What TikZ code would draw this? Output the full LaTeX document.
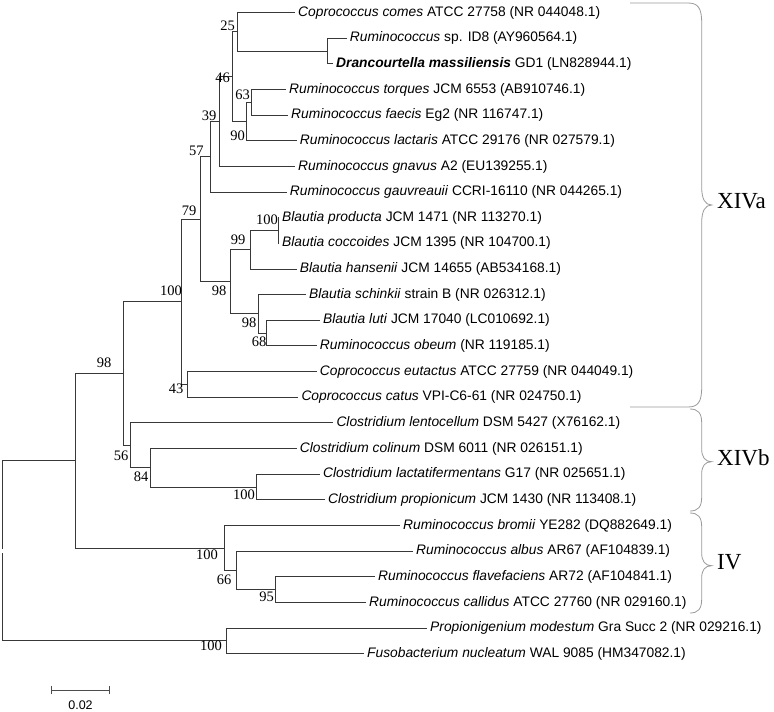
\documentclass[tikz,border=0pt]{standalone}
\usepackage{fontspec}
\setmainfont{Liberation Sans}
\newfontfamily\bsfont{Liberation Serif}
\begin{document}
\begin{tikzpicture}[x=1pt,y=-1pt,
  branch/.style={draw=black!78, line width=1pt},
  leaf/.style={anchor=west, inner xsep=3pt, inner ysep=0pt, text height=0.72em, text depth=0pt, font=\fontsize{13.8}{14}\selectfont},
  boot/.style={inner sep=0pt, text height=0.66em, text depth=0pt, font=\bsfont\fontsize{14.5}{15}\selectfont},
  brace/.style={draw=black!40, line width=0.8pt},
  clade/.style={anchor=west, inner sep=0pt, text height=0.66em, text depth=0pt, font=\bsfont\fontsize{23}{25}\selectfont},
  scalebar/.style={draw=black!70, line width=1pt}]
\useasboundingbox (0,0) rectangle (774,712);
% leaf ends
\coordinate (L1) at (295,12.5);
\coordinate (L2) at (346.7,38.15);
\coordinate (L3) at (333,63.8);
\coordinate (L4) at (286,89.45);
\coordinate (L5) at (288,115.1);
\coordinate (L6) at (296.7,140.75);
\coordinate (L7) at (295,166.4);
\coordinate (L8) at (286.7,192.05);
\coordinate (L9) at (279,217.7);
\coordinate (L10) at (279,243.35);
\coordinate (L11) at (296.7,269.0);
\coordinate (L12) at (306,294.65);
\coordinate (L13) at (320,320.3);
\coordinate (L14) at (316.7,345.95);
\coordinate (L15) at (316.7,371.6);
\coordinate (L16) at (298.3,397.25);
\coordinate (L17) at (333.3,422.9);
\coordinate (L18) at (296.7,448.55);
\coordinate (L19) at (320,474.2);
\coordinate (L20) at (325,499.85);
\coordinate (L21) at (400,525.5);
\coordinate (L22) at (413,551.15);
\coordinate (L23) at (375,576.8);
\coordinate (L24) at (366,602.45);
\coordinate (L25) at (427,628.1);
\coordinate (L26) at (364,653.75);
% internal nodes
\coordinate (n25) at (237.3,31.75);
\coordinate (nID8) at (327.7,51.0);
\coordinate (n63) at (251.7,102.3);
\coordinate (n90) at (246.7,121.5);
\coordinate (n46) at (232.3,76.6);
\coordinate (n39) at (219,121.5);
\coordinate (n57) at (210,156.8);
\coordinate (n100b) at (278.3,230.5);
\coordinate (n99) at (250,249.8);
\coordinate (n68) at (266.7,333.1);
\coordinate (n98c) at (258.3,313.9);
\coordinate (n98b) at (230,281.8);
\coordinate (n79) at (200.7,219.3);
\coordinate (n43) at (187.3,384.4);
\coordinate (n100a) at (181.7,301.9);
\coordinate (n100c) at (256.7,487.0);
\coordinate (n84) at (150.7,467.8);
\coordinate (n56) at (130,445.35);
\coordinate (n98a) at (123.3,373.6);
\coordinate (n95) at (275,589.6);
\coordinate (n66) at (236,570.4);
\coordinate (n100d) at (224,548);
\coordinate (n98r) at (75,460.8);
\coordinate (n100e) at (226.3,640.9);
\coordinate (rootA) at (2.7,549);
\coordinate (rootB) at (2.7,553);
% branches
\draw[branch] (rootA) |- (n98r);
\draw[branch] (rootB) |- (n100e);
\draw[branch] (n98r) |- (n98a);
\draw[branch] (n98r) |- (n100d);
\draw[branch] (n98a) |- (n100a);
\draw[branch] (n98a) |- (n56);
\draw[branch] (n100a) |- (n79);
\draw[branch] (n100a) |- (n43);
\draw[branch] (n79) |- (n57);
\draw[branch] (n79) |- (n98b);
\draw[branch] (n57) |- (n39);
\draw[branch] (n57) |- (L8);
\draw[branch] (n39) |- (n46);
\draw[branch] (n39) |- (L7);
\draw[branch] (n46) |- (n25);
\draw[branch] (n46) |- (n90);
\draw[branch] (n25) |- (L1);
\draw[branch] (n25) |- (nID8);
\draw[branch] (nID8) |- (L2);
\draw[branch] (nID8) |- (L3);
\draw[branch] (n90) |- (n63);
\draw[branch] (n90) |- (L6);
\draw[branch] (n63) |- (L4);
\draw[branch] (n63) |- (L5);
\draw[branch] (n98b) |- (n99);
\draw[branch] (n98b) |- (n98c);
\draw[branch] (n99) |- (n100b);
\draw[branch] (n99) |- (L11);
\draw[branch] (n100b) |- (L9);
\draw[branch] (n100b) |- (L10);
\draw[branch] (n98c) |- (L12);
\draw[branch] (n98c) |- (n68);
\draw[branch] (n68) |- (L13);
\draw[branch] (n68) |- (L14);
\draw[branch] (n43) |- (L15);
\draw[branch] (n43) |- (L16);
\draw[branch] (n56) |- (L17);
\draw[branch] (n56) |- (n84);
\draw[branch] (n84) |- (L18);
\draw[branch] (n84) |- (n100c);
\draw[branch] (n100c) |- (L19);
\draw[branch] (n100c) |- (L20);
\draw[branch] (n100d) |- (L21);
\draw[branch] (n100d) |- (n66);
\draw[branch] (n66) |- (L22);
\draw[branch] (n66) |- (n95);
\draw[branch] (n95) |- (L23);
\draw[branch] (n95) |- (L24);
\draw[branch] (n100e) |- (L25);
\draw[branch] (n100e) |- (L26);
% leaf labels
\node[leaf] (t1) at (L1) {\textit{Coprococcus comes} ATCC 27758 (NR 044048.1)};
\node[leaf] (t2) at (L2) {\textit{Ruminococcus} sp. ID8 (AY960564.1)};
\node[leaf] (t3) at (L3) {\textbf{\textit{Drancourtella massiliensis}} GD1 (LN828944.1)};
\node[leaf] (t4) at (L4) {\textit{Ruminococcus torques} JCM 6553 (AB910746.1)};
\node[leaf] (t5) at (L5) {\textit{Ruminococcus faecis} Eg2 (NR 116747.1)};
\node[leaf] (t6) at (L6) {\textit{Ruminococcus lactaris} ATCC 29176 (NR 027579.1)};
\node[leaf] (t7) at (L7) {\textit{Ruminococcus gnavus} A2 (EU139255.1)};
\node[leaf] (t8) at (L8) {\textit{Ruminococcus gauvreauii} CCRI-16110 (NR 044265.1)};
\node[leaf] (t9) at (L9) {\textit{Blautia producta} JCM 1471 (NR 113270.1)};
\node[leaf] (t10) at (L10) {\textit{Blautia coccoides} JCM 1395 (NR 104700.1)};
\node[leaf] (t11) at (L11) {\textit{Blautia hansenii} JCM 14655 (AB534168.1)};
\node[leaf] (t12) at (L12) {\textit{Blautia schinkii} strain B (NR 026312.1)};
\node[leaf] (t13) at (L13) {\textit{Blautia luti} JCM 17040 (LC010692.1)};
\node[leaf] (t14) at (L14) {\textit{Ruminococcus obeum} (NR 119185.1)};
\node[leaf] (t15) at (L15) {\textit{Coprococcus eutactus} ATCC 27759 (NR 044049.1)};
\node[leaf] (t16) at (L16) {\textit{Coprococcus catus} VPI-C6-61 (NR 024750.1)};
\node[leaf] (t17) at (L17) {\textit{Clostridium lentocellum} DSM 5427 (X76162.1)};
\node[leaf] (t18) at (L18) {\textit{Clostridium colinum} DSM 6011 (NR 026151.1)};
\node[leaf] (t19) at (L19) {\textit{Clostridium lactatifermentans} G17 (NR 025651.1)};
\node[leaf] (t20) at (L20) {\textit{Clostridium propionicum} JCM 1430 (NR 113408.1)};
\node[leaf] (t21) at (L21) {\textit{Ruminococcus bromii} YE282 (DQ882649.1)};
\node[leaf] (t22) at (L22) {\textit{Ruminococcus albus} AR67 (AF104839.1)};
\node[leaf] (t23) at (L23) {\textit{Ruminococcus flavefaciens} AR72 (AF104841.1)};
\node[leaf] (t24) at (L24) {\textit{Ruminococcus callidus} ATCC 27760 (NR 029160.1)};
\node[leaf] (t25) at (L25) {\textit{Propionigenium modestum} Gra Succ 2 (NR 029216.1)};
\node[leaf] (t26) at (L26) {\textit{Fusobacterium nucleatum} WAL 9085 (HM347082.1)};
% bootstrap values
\node[boot] (b25) at (227.5,26.7) {25};
\node[boot] (b46) at (222.5,79.3) {46};
\node[boot] (b63) at (242.5,95.7) {63};
\node[boot] (b90) at (237.5,137.3) {90};
\node[boot] (b39) at (209.2,116.7) {39};
\node[boot] (b57) at (196.3,151.7) {57};
\node[boot] (b79) at (189.2,211.7) {79};
\node[boot] (b100b) at (267,221) {100};
\node[boot] (b99) at (238,241) {99};
\node[boot] (b98b) at (219,292.5) {98};
\node[boot] (b98c) at (249,324) {98};
\node[boot] (b68) at (259,343) {68};
\node[boot] (b43) at (176,390) {43};
\node[boot] (b100a) at (171,292) {100};
\node[boot] (b98a) at (104,364) {98};
\node[boot] (b56) at (121,457) {56};
\node[boot] (b84) at (141,478) {84};
\node[boot] (b100c) at (244,496) {100};
\node[boot] (b100d) at (207,556) {100};
\node[boot] (b66) at (224,581) {66};
\node[boot] (b95) at (266.7,598) {95};
\node[boot] (b100e) at (211,647) {100};
% clade braces
\draw[brace] (630,3) -- (688,3) .. controls (698,3) and (701.7,8) .. (701.7,23) -- (701.7,187) .. controls (701.7,199) and (705,205) .. (711.7,205) .. controls (705,205) and (701.7,211) .. (701.7,223) -- (701.7,387) .. controls (701.7,402) and (698,407) .. (688,407) -- (630,407);
\draw[brace] (690,409) .. controls (698,409) and (701.7,413) .. (701.7,423) -- (701.7,449) .. controls (701.7,457) and (705,461.7) .. (711.7,461.7) .. controls (705,461.7) and (701.7,466) .. (701.7,474) -- (701.7,497) .. controls (701.7,507) and (698,511) .. (690,511);
\draw[brace] (690,513) .. controls (698,513) and (701.7,517) .. (701.7,527) -- (701.7,553) .. controls (701.7,561) and (705,565.7) .. (711.7,565.7) .. controls (705,565.7) and (701.7,570) .. (701.7,578) -- (701.7,599) .. controls (701.7,609) and (698,613) .. (690,613);
\node[clade] (cXIVa) at (717,205) {XIVa};
\node[clade] (cXIVb) at (717,461.7) {XIVb};
\node[clade] (cIV) at (717,565.7) {IV};
% scale bar
\coordinate (sbA) at (51.7,690);
\coordinate (sbB) at (109.3,690);
\draw[scalebar] (sbA) -- (sbB);
\draw[scalebar] ([yshift=-4pt]sbA) -- ([yshift=4pt]sbA);
\draw[scalebar] ([yshift=-4pt]sbB) -- ([yshift=4pt]sbB);
\node[inner sep=0pt, font=\fontsize{12.5}{13}\selectfont] (sblabel) at (80.5,705) {0.02};
\end{tikzpicture}
\end{document}
